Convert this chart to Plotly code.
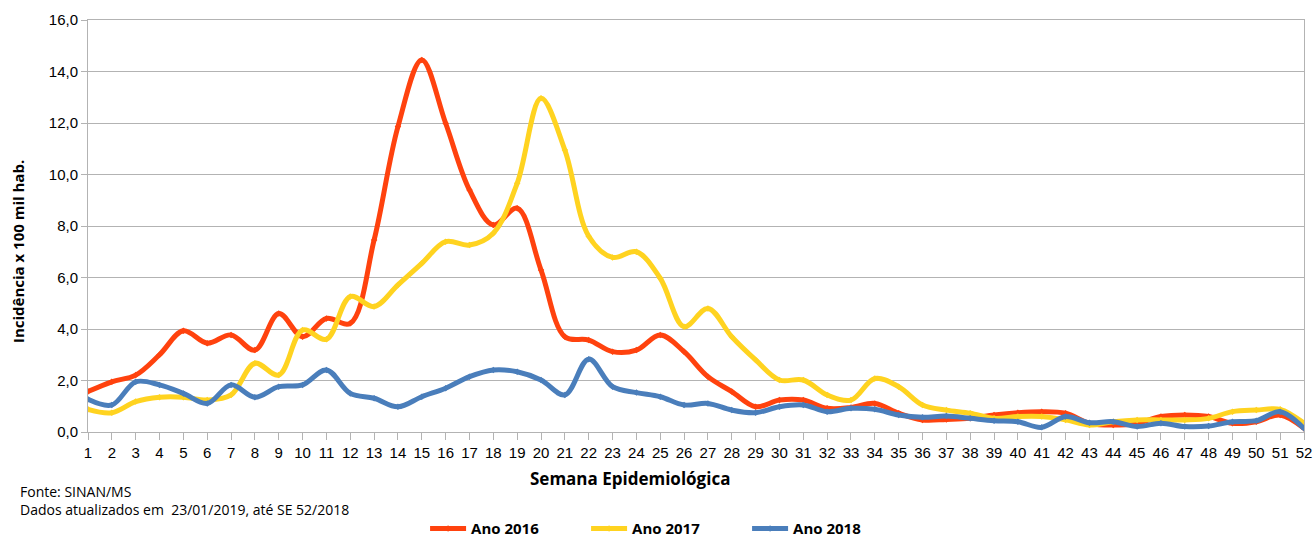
import plotly.graph_objects as go

weeks = list(range(1, 53))
tick_labels = [str(w) for w in weeks]

ano_2016 = [1.57, 1.95, 2.21, 3.0, 3.93, 3.45, 3.77, 3.18, 4.6, 3.7, 4.41, 4.22,
            7.46, 11.86, 14.45, 11.99, 9.4, 8.04, 8.69, 6.29, 3.7, 3.57,
            3.12, 3.18, 3.77, 3.12, 2.15, 1.57, 0.98, 1.24, 1.24, 0.92,
            0.95, 1.11, 0.73, 0.47, 0.49, 0.53, 0.66, 0.75, 0.79, 0.73,
            0.34, 0.27, 0.34, 0.6, 0.66, 0.6, 0.34, 0.4, 0.66, 0.14]
ano_2017 = [0.88, 0.75, 1.18, 1.35, 1.35, 1.24, 1.44, 2.67, 2.21, 3.96, 3.6, 5.26,
            4.87, 5.71, 6.55, 7.39, 7.26, 7.72, 9.66, 12.96, 10.95, 7.6,
            6.78, 7.0, 5.97, 4.09, 4.8, 3.7, 2.8, 2.02, 2.02, 1.44,
            1.24, 2.08, 1.76, 1.05, 0.85, 0.73, 0.53, 0.6, 0.6, 0.47,
            0.27, 0.4, 0.47, 0.47, 0.47, 0.53, 0.79, 0.85, 0.88, 0.34]
ano_2018 = [1.27, 1.05, 1.95, 1.83, 1.5, 1.11, 1.83, 1.35, 1.76, 1.83, 2.41, 1.5,
            1.31, 0.98, 1.37, 1.7, 2.15, 2.41, 2.34, 2.02, 1.44, 2.83,
            1.76, 1.53, 1.37, 1.05, 1.11, 0.85, 0.75, 0.98, 1.05, 0.79,
            0.92, 0.88, 0.66, 0.57, 0.62, 0.53, 0.44, 0.4, 0.18, 0.6,
            0.36, 0.4, 0.21, 0.34, 0.21, 0.23, 0.4, 0.44, 0.79, 0.14]

series = [("Ano 2016", ano_2016, "#ff420e"),
          ("Ano 2017", ano_2017, "#ffd320"),
          ("Ano 2018", ano_2018, "#4a7ebb")]

fig = go.Figure()
for name, vals, color in series:
    fig.add_trace(go.Scatter(
        x=weeks, y=vals, name="<b>" + name + "</b>", mode="lines+markers",
        line=dict(color=color, width=5, shape="spline", smoothing=1.0),
        marker=dict(symbol="diamond", size=5, color=color),
    ))

grid = "#b3b3b3"
title_font = "Open Sans, Lato, sans-serif"
fig.update_layout(
    width=1315, height=539,
    margin=dict(l=88, r=11, t=20, b=107, autoexpand=False),
    paper_bgcolor="white", plot_bgcolor="white",
    separators=",.",
    showlegend=True,
    legend=dict(orientation="h", x=0.2772, xanchor="left", y=-0.235, yanchor="middle",
                font=dict(family=title_font, size=15, color="#000000"),
                itemwidth=36, entrywidth=110, entrywidthmode="pixels",
                tracegroupgap=0, bgcolor="rgba(0,0,0,0)"),
    font=dict(family="Liberation Sans, Arial, sans-serif", size=15, color="#000000"),
)
fig.update_xaxes(
    range=[1, 52], tickvals=weeks, ticktext=tick_labels,
    showgrid=False, showline=True, linecolor=grid, linewidth=1, mirror=True,
    ticks="outside", ticklen=7, tickcolor=grid, zeroline=False,
    tickfont=dict(family="Liberation Sans, Arial, sans-serif", size=15, color="#000000"),
)
fig.update_yaxes(
    range=[0, 16], dtick=2, tickformat=".1f",
    showgrid=True, gridcolor=grid, gridwidth=1,
    showline=True, linecolor=grid, linewidth=1, mirror=True,
    ticks="outside", ticklen=6, tickcolor=grid, zeroline=False,
    tickfont=dict(family="Liberation Sans, Arial, sans-serif", size=15, color="#000000"),
)

fig.add_annotation(text="<b>Semana Epidemiológica</b>", xref="paper", yref="paper",
                   x=0.446, y=-0.114, xanchor="center", yanchor="middle", showarrow=False,
                   font=dict(family=title_font, size=17, color="#000000"))
fig.add_annotation(text="<b>Incidência x 100 mil hab.</b>", xref="paper", yref="paper",
                   x=-0.0575, y=0.437, xanchor="center", yanchor="middle", showarrow=False,
                   textangle=-90,
                   font=dict(family=title_font, size=15, color="#000000"))
fig.add_annotation(text="Fonte: SINAN/MS",
                   xref="paper", yref="paper", x=-0.0576, y=-0.1456, xanchor="left", yanchor="middle",
                   align="left", showarrow=False,
                   font=dict(family=title_font, size=14, color="#000000"))
fig.add_annotation(text="Dados atualizados em  23/01/2019, até SE 52/2018",
                   xref="paper", yref="paper", x=-0.0576, y=-0.1893, xanchor="left", yanchor="middle",
                   align="left", showarrow=False,
                   font=dict(family=title_font, size=14, color="#000000"))

fig.write_html("out.html", config={"displayModeBar": False},
               post_script="document.body.style.margin='0';document.body.style.overflow='hidden';")
